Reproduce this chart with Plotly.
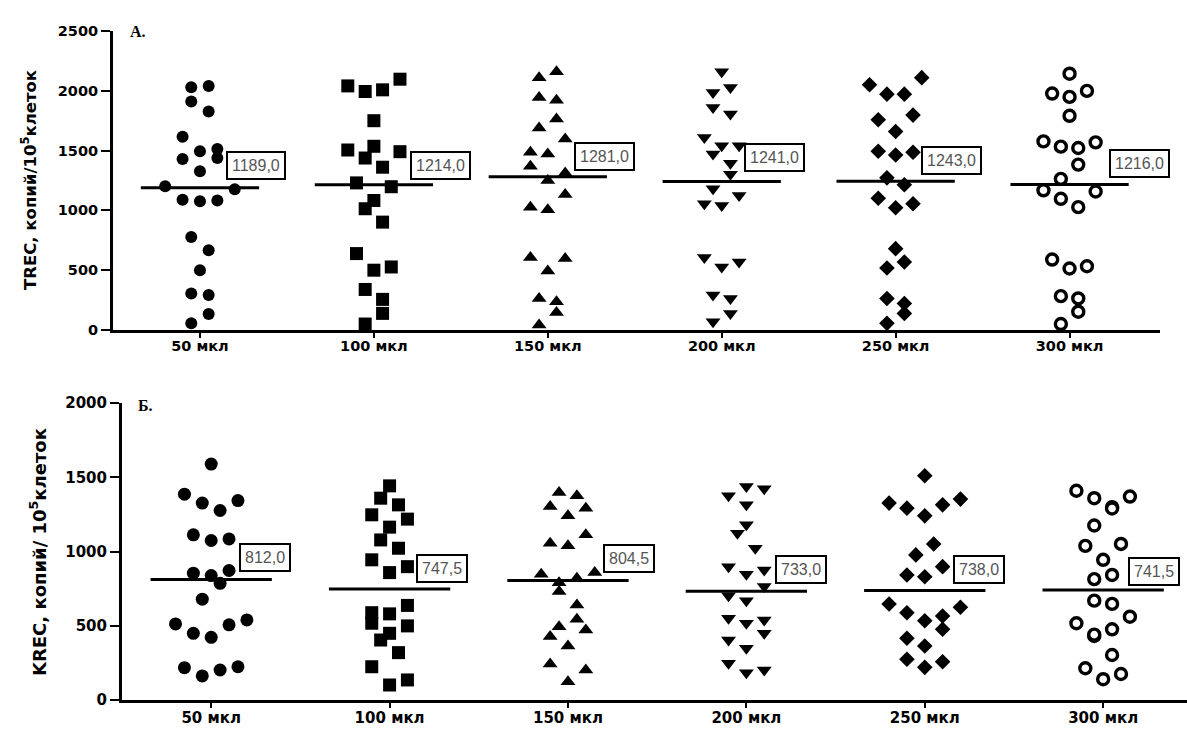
import plotly.graph_objects as go

categories = ["50 мкл", "100 мкл", "150 мкл", "200 мкл", "250 мкл", "300 мкл"]
symbols = ["circle", "square", "triangle-up", "triangle-down", "diamond", "circle"]

# TREC (panel A)
trec_50 = [2030, 2040, 1910, 1827, 1616, 1494, 1513, 1430, 1438, 1327, 1202, 1176, 1089, 1077, 1083, 777, 666, 500, 306, 292, 133, 56]
trec_100 = [2041, 1994, 2008, 2097, 1750, 1505, 1536, 1438, 1491, 1361, 1230, 1198, 1083, 1014, 902, 639, 500, 527, 339, 256, 139, 50]
trec_150 = [2110, 2160, 1944, 1922, 1764, 1689, 1597, 1486, 1472, 1369, 1312, 1250, 1133, 1027, 1005, 606, 597, 494, 264, 236, 147, 42]
trec_200 = [2160, 2027, 1985, 1860, 1805, 1610, 1541, 1541, 1472, 1394, 1302, 1180, 1125, 1055, 1041, 606, 527, 569, 292, 264, 139, 69]
trec_250 = [2050, 1972, 1972, 2110, 1758, 1797, 1660, 1494, 1463, 1486, 1272, 1214, 1102, 1022, 1055, 680, 519, 569, 264, 222, 139, 56]
trec_300 = [2143, 1977, 1949, 1999, 1791, 1577, 1533, 1522, 1569, 1383, 1264, 1168, 1097, 1027, 1158, 589, 514, 533, 283, 264, 153, 50]
trec_medians = [1189.0, 1214.0, 1281.0, 1241.0, 1243.0, 1216.0]

# horizontal scatter slot of every point (column-scatter layout)
trec_slot_50 = [-1, 1, -1, 1, -2, 0, 2, -2, 2, 0, -4, 4, -2, 0, 2, -1, 1, 0, -1, 1, 1, -1]
trec_slot_100 = [-3, -1, 1, 3, 0, -3, 0, -1, 3, 1, -2, 2, 0, -1, 1, -2, 0, 2, -1, 1, 1, -1]
trec_slot_150 = [-1, 1, -1, 1, 1, -1, 2, -2, 0, -2, 2, 0, 2, -2, 0, -2, 2, 0, -1, 1, 1, -1]
trec_slot_200 = [0, 1, -1, -1, 1, -2, 0, 2, -1, 1, 1, -1, 2, -2, 0, -2, 0, 2, -1, 1, 1, -1]
trec_slot_250 = [-3, -1, 1, 3, -2, 2, 0, -2, 0, 2, -1, 1, -2, 0, 2, 0, -1, 1, -1, 1, 1, -1]
trec_slot_300 = [0, -2, 0, 2, 0, -3, -1, 1, 3, 1, -1, -3, -1, 1, 3, -2, 0, 2, -1, 1, 1, -1]

# KREC (panel Б)
krec_50 = [1589, 1386, 1326, 1276, 1343, 1112, 1074, 1085, 854, 838, 872, 786, 679, 512, 449, 422, 506, 539, 218, 162, 202, 224]
krec_100 = [1442, 1359, 1314, 1247, 1218, 1164, 1078, 1022, 944, 858, 898, 637, 588, 580, 517, 499, 449, 404, 319, 224, 101, 135]
krec_150 = [1397, 1375, 1303, 1240, 1292, 1056, 1038, 1112, 847, 820, 858, 789, 730, 640, 544, 494, 427, 472, 364, 243, 202, 123]
krec_200 = [1375, 1438, 1422, 1314, 1180, 1123, 1022, 898, 847, 876, 764, 702, 669, 551, 517, 539, 449, 404, 348, 247, 184, 202]
krec_250 = [1510, 1326, 1292, 1240, 1314, 1353, 1051, 977, 842, 830, 898, 646, 588, 534, 566, 625, 476, 416, 364, 274, 220, 258]
krec_300 = [1409, 1359, 1299, 1290, 1370, 1175, 1038, 1051, 944, 842, 814, 669, 647, 561, 517, 431, 440, 476, 303, 214, 140, 175]
krec_medians = [812.0, 747.5, 804.5, 733.0, 738.0, 741.5]

krec_slot_50 = [0, -3, -1, 1, 3, -2, 0, 2, -2, 0, 2, 1, -1, -4, -2, 0, 2, 4, -3, -1, 1, 3]
krec_slot_100 = [0, -1, 1, -2, 2, 0, -1, 1, -2, 0, 2, 2, -2, 0, -2, 2, 0, -1, 1, -2, 0, 2]
krec_slot_150 = [-1, 1, -2, 0, 2, -2, 0, 2, -3, 1, 3, -1, -1, 1, 1, -1, -2, 2, 0, -2, 2, 0]
krec_slot_200 = [-2, 0, 2, 0, 0, -1, 1, -2, 0, 2, 2, -2, 0, -2, 0, 2, 2, -2, 0, -2, 0, 2]
krec_slot_250 = [0, -4, -2, 0, 2, 4, 1, -1, -2, 0, 2, -4, -2, 0, 2, 4, 2, -2, 0, -2, 0, 2]
krec_slot_300 = [-3, -1, 1, 1, 3, -1, -2, 2, 0, 1, -1, -1, 1, 3, -3, -1, -1, 1, 1, -2, 0, 2]

trec_groups = [trec_50, trec_100, trec_150, trec_200, trec_250, trec_300]
trec_slots = [trec_slot_50, trec_slot_100, trec_slot_150, trec_slot_200, trec_slot_250, trec_slot_300]
krec_groups = [krec_50, krec_100, krec_150, krec_200, krec_250, krec_300]
krec_slots = [krec_slot_50, krec_slot_100, krec_slot_150, krec_slot_200, krec_slot_250, krec_slot_300]

SLOT = 0.05
HALF = 0.34
FONT = "Liberation Sans, Arial, sans-serif"
BOLDFONT = "DejaVu Sans, Verdana, sans-serif"
SERIF = "Liberation Serif, Times New Roman, serif"

fig = go.Figure()


def marker_for(i, size):
    if i == 5:
        return dict(symbol="circle", size=size - 2, color="white", line=dict(color="black", width=3.4))
    return dict(symbol=symbols[i], size=size, color="black", line=dict(width=0))


def add_panel(groups, slots, medians, xa, ya, sizes):
    for i, (vals, sl) in enumerate(zip(groups, slots)):
        m = medians[i]
        fig.add_trace(go.Scatter(x=[i - HALF, i + HALF], y=[m, m], mode="lines",
                                 line=dict(color="black", width=3), xaxis=xa, yaxis=ya,
                                 showlegend=False, hoverinfo="skip"))
        fig.add_trace(go.Scatter(x=[i + s * SLOT for s in sl], y=vals, mode="markers",
                                 marker=marker_for(i, sizes[i]), xaxis=xa, yaxis=ya,
                                 showlegend=False))


add_panel(trec_groups, trec_slots, trec_medians, "x", "y", [12, 13, 13, 13, 12, 13])
add_panel(krec_groups, krec_slots, krec_medians, "x2", "y2", [13, 13, 13, 13, 12, 13])

# median label boxes
trec_box_dx = [26, 36, 26, 22, 25, 39]
trec_box_dy = [8, 5, 6, 10, 6, 7]
krec_box_dx = [28, 26, 35, 29, 28, 25]
krec_box_dy = [7, 6, 8, 7, 6, 4]

annotations = []
for meds, dxs, dys, xr, yr in [(trec_medians, trec_box_dx, trec_box_dy, "x", "y"),
                               (krec_medians, krec_box_dx, krec_box_dy, "x2", "y2")]:
    for i, m in enumerate(meds):
        annotations.append(dict(
            x=i, y=m, xref=xr, yref=yr, xanchor="left", yanchor="bottom",
            xshift=dxs[i], yshift=dys[i], showarrow=False,
            text=f"{m:.1f}".replace(".", ","),
            font=dict(family=FONT, size=16, color="#555555"),
            bgcolor="white", bordercolor="black", borderwidth=2, borderpad=4))

annotations += [
    dict(x=29 / 1187, y=1 - 180 / 729, xref="paper", yref="paper", textangle=-90,
         xanchor="center", yanchor="middle", showarrow=False,
         text="TREC, копий/10<sup>5</sup>клеток",
         font=dict(family=BOLDFONT, size=16.5, color="black", weight="bold")),
    dict(x=38 / 1187, y=1 - 552 / 729, xref="paper", yref="paper", textangle=-90,
         xanchor="center", yanchor="middle", showarrow=False,
         text="KREC, копий/ 10<sup>5</sup>клеток",
         font=dict(family=BOLDFONT, size=18, color="black", weight="bold")),
    dict(x=128 / 1187, y=1 - 32 / 729, xref="paper", yref="paper",
         xanchor="left", yanchor="middle", showarrow=False, text="А.",
         font=dict(family=SERIF, size=16, color="black", weight="bold")),
    dict(x=136 / 1187, y=1 - 405 / 729, xref="paper", yref="paper",
         xanchor="left", yanchor="middle", showarrow=False, text="Б.",
         font=dict(family=SERIF, size=16, color="black", weight="bold")),
]

axis_common = dict(showline=True, linecolor="black", linewidth=3, showgrid=False, zeroline=False,
                   ticks="outside", tickcolor="black", tickwidth=2, automargin=False)

fig.update_layout(
    width=1187, height=729,
    margin=dict(l=0, r=0, t=0, b=0, autoexpand=False),
    paper_bgcolor="white", plot_bgcolor="white",
    xaxis=dict(domain=[113 / 1187, 1160 / 1187], range=[-0.5, 5.52], anchor="y",
               tickvals=list(range(6)), ticktext=categories, ticklen=5, ticklabelstandoff=-4,
               tickfont=dict(family=BOLDFONT, size=14.5, color="black", weight="bold"),
               **axis_common),
    yaxis=dict(domain=[1 - 330 / 729, 1 - 31 / 729], range=[0, 2500], anchor="x",
               tickvals=[0, 500, 1000, 1500, 2000, 2500], ticklen=9,
               tickfont=dict(family=BOLDFONT, size=14.5, color="black", weight="bold"),
               **axis_common),
    xaxis2=dict(domain=[122 / 1187, 1.0], range=[-0.5, 5.47], anchor="y2",
                tickvals=list(range(6)), ticktext=categories, ticklen=5, ticklabelstandoff=-3,
                tickfont=dict(family=BOLDFONT, size=15, color="black", weight="bold"),
                **axis_common),
    yaxis2=dict(domain=[1 - 700 / 729, 1 - 403 / 729], range=[0, 2000], anchor="x2",
                tickvals=[0, 500, 1000, 1500, 2000], ticklen=9,
                tickfont=dict(family=BOLDFONT, size=15, color="black", weight="bold"),
                **axis_common),
    annotations=annotations,
)

fig.write_html("out.html")
